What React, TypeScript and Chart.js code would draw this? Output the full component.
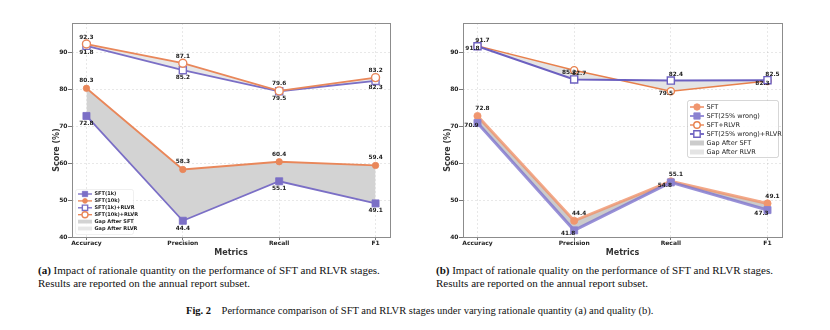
import React, { useEffect, useRef } from "react";
import { Chart, registerables } from "chart.js";

Chart.register(...registerables);

// ---------------- data ----------------
const categories = ["Accuracy", "Precision", "Recall", "F1"];
const yTickValues = [40, 50, 60, 70, 80, 90];
const xTitle = "Metrics";
const yTitle = "Score (%)";

// (a) rationale quantity
const aLabels = ["SFT(1k)", "SFT(10k)", "SFT(1k)+RLVR", "SFT(10k)+RLVR", "Gap After SFT", "Gap After RLVR"];
const aSft1k = [72.8, 44.4, 55.1, 49.1];
const aSft10k = [80.3, 58.3, 60.4, 59.4];
const aSft1kRlvr = [91.8, 85.2, 79.5, 82.3];
const aSft10kRlvr = [92.3, 87.1, 79.6, 83.2];

// (b) rationale quality
const bLabels = ["SFT", "SFT(25% wrong)", "SFT+RLVR", "SFT(25% wrong)+RLVR", "Gap After SFT", "Gap After RLVR"];
const bSft = [72.8, 44.4, 55.1, 49.1];
const bSftWrong = [70.9, 41.8, 54.8, 47.3];
const bSftRlvr = [91.8, 85.2, 79.5, 82.3];
const bSftWrongRlvr = [91.7, 82.7, 82.4, 82.5];

// ---------------- styles ----------------
const FONT = "'DejaVu Sans', sans-serif";
const SERIF = "'Liberation Serif', 'Times New Roman', serif";

type SeriesStyle = {
  label: string;
  data: number[];
  color: string;
  pointColor: string;
  lw: number;
  marker: "rect" | "circle";
  r: number;
  open: boolean;
  dx: number;
  dy: number;
  order: number;
  fillTo?: number;
  fillColor?: string;
};

type LegendStyle = {
  x: number;
  y: number;
  w: number;
  h: number;
  padTop: number;
  rowH: number;
  handle: number;
  padLeft: number;
  gap: number;
  fontSize: number;
  weight: string;
  markerScale: number;
  border: string;
};

type PanelSpec = {
  series: SeriesStyle[];
  gapLabels: string[];
  gapColors: string[];
  padLeft: number;
  padRight: number;
  yTitleX: number;
  legend: LegendStyle;
  labelFont: number;
};

const PURPLE = "#7b6fc6";
const ORANGE = "#e9875a";

const panelA: PanelSpec = {
  series: [
    { label: aLabels[0], data: aSft1k, color: PURPLE, pointColor: PURPLE, lw: 1.8, marker: "rect", r: 5, open: false, dx: 0, dy: 7.5, order: 3 },
    { label: aLabels[1], data: aSft10k, color: ORANGE, pointColor: ORANGE, lw: 1.8, marker: "circle", r: 3.2, open: false, dx: 0, dy: -7.5, order: 2, fillTo: 0, fillColor: "#d3d3d3" },
    { label: aLabels[2], data: aSft1kRlvr, color: PURPLE, pointColor: PURPLE, lw: 1.8, marker: "rect", r: 5, open: true, dx: 0, dy: 7, order: 1 },
    { label: aLabels[3], data: aSft10kRlvr, color: ORANGE, pointColor: ORANGE, lw: 1.8, marker: "circle", r: 4, open: true, dx: 0, dy: -7, order: 0, fillTo: 2, fillColor: "#e7e7e7" },
  ],
  gapLabels: [aLabels[4], aLabels[5]],
  gapColors: ["#d3d3d3", "#e7e7e7"],
  padLeft: 50,
  padRight: 25,
  yTitleX: 57,
  legend: { x: 75, y: 189, w: 58, h: 45, padTop: 5, rowH: 6.9, handle: 14, padLeft: 3, gap: 2.5, fontSize: 5, weight: "bold", markerScale: 0.75, border: "rgba(0,0,0,0.08)" },
  labelFont: 5.8,
};

const panelB: PanelSpec = {
  series: [
    { label: bLabels[0], data: bSft, color: "rgba(240,146,106,0.8)", pointColor: "#f0966e", lw: 3, marker: "circle", r: 3.6, open: false, dx: 5, dy: -7, order: 3 },
    { label: bLabels[1], data: bSftWrong, color: "rgba(128,118,206,0.8)", pointColor: "#8b82d0", lw: 3, marker: "rect", r: 5, open: false, dx: -6, dy: 3, order: 2, fillTo: 0, fillColor: "#cbcbcb" },
    { label: bLabels[2], data: bSftRlvr, color: "#e8804c", pointColor: "#e8804c", lw: 1.5, marker: "circle", r: 3.6, open: true, dx: -5, dy: 2.5, order: 1 },
    { label: bLabels[3], data: bSftWrongRlvr, color: "#6c60c0", pointColor: "#6c60c0", lw: 2, marker: "rect", r: 5, open: true, dx: 5, dy: -6, order: 0, fillTo: 2, fillColor: "#e4e4e4" },
  ],
  gapLabels: [bLabels[4], bLabels[5]],
  gapColors: ["#cbcbcb", "#e4e4e4"],
  padLeft: 26,
  padRight: 48,
  yTitleX: 33,
  legend: { x: 272, y: 100, w: 91, h: 57, padTop: 7, rowH: 9, handle: 14, padLeft: 3, gap: 2.5, fontSize: 6.5, weight: "normal", markerScale: 0.9, border: "rgba(0,0,0,0.2)" },
  labelFont: 5.8,
};

function drawMarker(ctx: CanvasRenderingContext2D, x: number, y: number, s: SeriesStyle, scale: number) {
  const r = s.r * scale;
  ctx.save();
  ctx.beginPath();
  if (s.marker === "rect") {
    const h = r * Math.SQRT1_2;
    ctx.rect(x - h, y - h, 2 * h, 2 * h);
  } else {
    ctx.arc(x, y, r, 0, Math.PI * 2);
  }
  ctx.fillStyle = s.open ? "#ffffff" : s.pointColor;
  ctx.fill();
  ctx.lineWidth = s.open ? 1.4 : 0.8;
  ctx.strokeStyle = s.pointColor;
  ctx.stroke();
  ctx.restore();
}

function buildConfig(spec: PanelSpec): any {
  const datasets = spec.series.map((s) => ({
    label: s.label,
    data: s.data.map((v, j) => ({ x: j, y: v })),
    borderColor: s.color,
    backgroundColor: s.color,
    borderWidth: s.lw,
    pointStyle: s.marker,
    pointRadius: s.r,
    pointBackgroundColor: s.open ? "#ffffff" : s.pointColor,
    pointBorderColor: s.pointColor,
    pointBorderWidth: s.open ? 1.4 : 0.8,
    order: s.order,
    tension: 0,
    fill: s.fillTo !== undefined ? { target: s.fillTo, above: s.fillColor, below: s.fillColor } : false,
  }));

  const framePlugin = {
    id: "frameAndLabels",
    afterDatasetsDraw(chart: any) {
      const ctx: CanvasRenderingContext2D = chart.ctx;
      const a = chart.chartArea;
      // data labels
      ctx.save();
      ctx.font = `bold ${spec.labelFont}px ${FONT}`;
      ctx.fillStyle = "#222";
      ctx.textAlign = "center";
      ctx.textBaseline = "middle";
      spec.series.forEach((s, i) => {
        const meta = chart.getDatasetMeta(i);
        meta.data.forEach((el: any, j: number) => {
          ctx.fillText(s.data[j].toFixed(1), el.x + s.dx, el.y + s.dy);
        });
      });
      ctx.restore();
      // frame
      ctx.save();
      ctx.strokeStyle = "#8c8c8c";
      ctx.lineWidth = 1;
      ctx.strokeRect(Math.round(a.left) + 0.5, Math.round(a.top) + 0.5, Math.round(a.right - a.left), Math.round(a.bottom - a.top));
      ctx.restore();
      // y-axis title (matplotlib-like, placed a little below centre as in the figure)
      ctx.save();
      ctx.translate(spec.yTitleX, 150);
      ctx.rotate(-Math.PI / 2);
      ctx.font = `bold 8px ${FONT}`;
      ctx.fillStyle = "#333";
      ctx.textAlign = "center";
      ctx.textBaseline = "middle";
      ctx.fillText(yTitle, 0, 0);
      ctx.restore();
      // legend
      const lg = spec.legend;
      ctx.save();
      ctx.fillStyle = "rgba(255,255,255,0.85)";
      ctx.strokeStyle = lg.border;
      ctx.lineWidth = 0.8;
      ctx.beginPath();
      ctx.roundRect(lg.x + 0.5, lg.y + 0.5, lg.w, lg.h, 2);
      ctx.fill();
      ctx.stroke();
      ctx.font = `${lg.weight} ${lg.fontSize}px ${FONT}`;
      ctx.textAlign = "left";
      ctx.textBaseline = "middle";
      const hx = lg.x + lg.padLeft;
      spec.series.forEach((s, i) => {
        const cy = lg.y + lg.padTop + i * lg.rowH;
        ctx.strokeStyle = s.color;
        ctx.lineWidth = Math.min(s.lw, 2.2) * lg.markerScale;
        ctx.beginPath();
        ctx.moveTo(hx, cy);
        ctx.lineTo(hx + lg.handle, cy);
        ctx.stroke();
        drawMarker(ctx, hx + lg.handle / 2, cy, s, lg.markerScale);
        ctx.fillStyle = "#222";
        ctx.fillText(s.label, hx + lg.handle + lg.gap, cy);
      });
      spec.gapLabels.forEach((g, k) => {
        const cy = lg.y + lg.padTop + (spec.series.length + k) * lg.rowH;
        const ph = lg.rowH * 0.55;
        ctx.fillStyle = spec.gapColors[k];
        ctx.fillRect(hx, cy - ph / 2, lg.handle, ph);
        ctx.fillStyle = "#222";
        ctx.fillText(g, hx + lg.handle + lg.gap, cy);
      });
      ctx.restore();
    },
  };

  const tickFont = { family: FONT, size: 6, weight: "bold" as const };
  const titleFont = { family: FONT, size: 8, weight: "bold" as const };

  return {
    type: "line",
    data: { datasets },
    options: {
      responsive: false,
      animation: false,
      devicePixelRatio: 1,
      layout: { padding: { left: spec.padLeft, right: spec.padRight, top: 23, bottom: 0 } },
      plugins: {
        legend: { display: false },
        tooltip: { enabled: false },
        filler: { drawTime: "beforeDatasetsDraw" },
      },
      scales: {
        x: {
          type: "linear",
          min: -0.15,
          max: 3.15,
          afterFit: (s: any) => {
            s.height = 25;
          },
          afterBuildTicks: (s: any) => {
            s.ticks = categories.map((_, i) => ({ value: i }));
          },
          ticks: {
            autoSkip: false,
            maxRotation: 0,
            padding: 0,
            color: "#222",
            font: tickFont,
            callback: (v: number) => (Number.isInteger(v) ? categories[v] : ""),
          },
          grid: { color: "rgba(0,0,0,0.13)", lineWidth: 0.7, tickColor: "#555", tickLength: 3, tickWidth: 0.8 },
          border: { display: false, dash: [2, 2] },
          title: { display: true, text: xTitle, color: "#333", font: titleFont, padding: { top: 0, bottom: 4 } },
        },
        y: {
          type: "linear",
          min: 40,
          max: 98,
          afterFit: (s: any) => {
            s.width = 22;
          },
          afterBuildTicks: (s: any) => {
            s.ticks = yTickValues.map((v) => ({ value: v }));
          },
          ticks: { padding: 0.5, color: "#222", font: tickFont },
          grid: { color: "rgba(0,0,0,0.13)", lineWidth: 0.7, tickColor: "#555", tickLength: 4, tickWidth: 0.8 },
          border: { display: false, dash: [2, 2] },
          title: { display: false },
        },
      },
    },
    plugins: [framePlugin],
  };
}

function Panel({ spec, left }: { spec: PanelSpec; left: number }) {
  const ref = useRef<HTMLCanvasElement>(null);
  useEffect(() => {
    const chart = new Chart(ref.current as HTMLCanvasElement, buildConfig(spec));
    return () => chart.destroy();
  }, [spec]);
  return (
    <canvas
      ref={ref}
      width={415}
      height={262}
      style={{ position: "absolute", left, top: 0, width: 415, height: 262 }}
    />
  );
}

const captionStyle: React.CSSProperties = {
  position: "absolute",
  fontFamily: SERIF,
  fontSize: 11,
  lineHeight: "13px",
  color: "#111",
  whiteSpace: "nowrap",
};

export default function App() {
  return (
    <div style={{ position: "absolute", left: 0, top: 0, width: 830, height: 330, background: "#fff", overflow: "hidden" }}>
      <Panel spec={panelA} left={0} />
      <Panel spec={panelB} left={415} />
      <div style={{ ...captionStyle, left: 38, top: 264 }}>
        <b>(a)</b> Impact of rationale quantity on the performance of SFT and RLVR stages.
        <br />
        Results are reported on the annual report subset.
      </div>
      <div style={{ ...captionStyle, left: 436, top: 264 }}>
        <b>(b)</b> Impact of rationale quality on the performance of SFT and RLVR stages.
        <br />
        Results are reported on the annual report subset.
      </div>
      <div style={{ ...captionStyle, left: 186, top: 304, fontSize: 10.5 }}>
        <b>Fig. 2</b>&nbsp;&nbsp;&nbsp;&nbsp;Performance comparison of SFT and RLVR stages under varying rationale quantity (a) and quality (b).
      </div>
    </div>
  );
}
